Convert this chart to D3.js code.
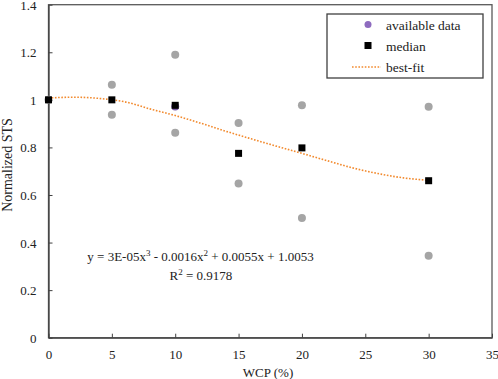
<!DOCTYPE html>
<html>
<head>
<meta charset="utf-8">
<script src="https://cdn.jsdelivr.net/npm/d3@7"></script>
<style>
  body { margin: 0; background: #fff; }
  svg { display: block; }
  svg text { font-family: "Liberation Serif", "Times New Roman", serif; fill: #222; }
  .tick-label { font-size: 13px; }
  .axis-title { font-size: 13px; }
  .legend-text { font-size: 13.5px; }
  .eq-text { font-size: 13px; }
</style>
</head>
<body>
<svg id="chart" width="498" height="379"></svg>
<script>
// available data (WCP %, normalized STS)
const dataX = [0, 5, 5, 10, 10, 15, 15, 20, 20, 30, 30]
const dataY = [1.0, 1.063, 0.937, 1.19, 0.862, 0.903, 0.648, 0.977, 0.503, 0.971, 0.345]
// point hidden under the median square at 10
const purpleX = [10]
const purpleY = [0.972]

// medians
const medianX = [0, 5, 10, 15, 20, 30]
const medianY = [1.0, 1.0, 0.977, 0.775, 0.798, 0.66]

// best-fit curve
const fitX = [0, 2, 4, 5, 6, 8, 10, 12, 14, 16, 18, 20, 22, 24, 26, 28, 30]
const fitY = [1.008, 1.011, 1.006, 1.0, 0.992, 0.962, 0.934, 0.902, 0.868, 0.836, 0.805, 0.775, 0.744, 0.714, 0.690, 0.672, 0.662]

const xTicks = [0, 5, 10, 15, 20, 25, 30, 35]
const yTicks = [0, 0.2, 0.4, 0.6, 0.8, 1, 1.2, 1.4]

const svg = d3.select('#chart')
const M = { left: 48.5, right: 492, top: 4.7, bottom: 337.7 }

const x = d3.scaleLinear().domain([0, 35]).range([M.left, M.right])
const y = d3.scaleLinear().domain([0, 1.4]).range([M.bottom, M.top])

// plot frame
svg.append('rect')
    .attr('x', M.left).attr('y', M.top)
    .attr('width', M.right - M.left).attr('height', M.bottom - M.top)
    .attr('fill', 'none').attr('stroke', '#595959').attr('stroke-width', 1.3)

// axes, ticks pointing inside
const xAxis = svg.append('g')
    .attr('transform', `translate(0, ${M.bottom})`)
    .call(d3.axisBottom(x).tickValues(xTicks).tickSizeInner(-4).tickSizeOuter(0).tickFormat(d3.format('d')))
const yAxis = svg.append('g')
    .attr('transform', `translate(${M.left}, 0)`)
    .call(d3.axisLeft(y).tickValues(yTicks).tickSizeInner(-4).tickSizeOuter(0).tickFormat(d => d3.format('~g')(d)))

for (const g of [xAxis, yAxis]) {
    g.attr('font-family', null).attr('font-size', null)
    g.select('.domain').attr('stroke', '#404040').attr('stroke-width', 1.3)
    g.selectAll('.tick line').attr('stroke', '#404040')
    g.selectAll('.tick text').attr('class', 'tick-label').attr('fill', null)
}
xAxis.selectAll('.tick text').attr('dy', null).attr('y', 21.5)
yAxis.selectAll('.tick text').attr('x', -12).attr('dy', '0.35em')

// axis titles
svg.append('text')
    .attr('class', 'axis-title')
    .attr('x', 268).attr('y', 377)
    .attr('text-anchor', 'middle')
    .text('WCP (%)')
svg.append('text')
    .attr('class', 'axis-title')
    .attr('font-size', 14)
    .style('font-size', '14px')
    .attr('transform', 'translate(12, 165) rotate(-90)')
    .attr('text-anchor', 'middle')
    .text('Normalized STS')

// available data
svg.append('g').selectAll('circle')
    .data(d3.zip(dataX, dataY))
    .join('circle')
    .attr('cx', d => x(d[0])).attr('cy', d => y(d[1]))
    .attr('r', 4)
    .attr('fill', '#a5a5a5')
svg.append('g').selectAll('circle')
    .data(d3.zip(purpleX, purpleY))
    .join('circle')
    .attr('cx', d => x(d[0])).attr('cy', d => y(d[1]))
    .attr('r', 4)
    .attr('fill', '#7b5ea7')

// best-fit
const fitLine = d3.line()
    .x(d => x(d[0])).y(d => y(d[1]))
    .curve(d3.curveMonotoneX)
svg.append('path')
    .datum(d3.zip(fitX, fitY))
    .attr('d', fitLine)
    .attr('fill', 'none')
    .attr('stroke', '#f28a2e')
    .attr('stroke-width', 1.6)
    .attr('stroke-dasharray', '1.6,1.6')

// medians
const sq = 7
svg.append('g').selectAll('rect')
    .data(d3.zip(medianX, medianY))
    .join('rect')
    .attr('x', d => x(d[0]) - sq / 2).attr('y', d => y(d[1]) - sq / 2)
    .attr('width', sq).attr('height', sq)
    .attr('fill', '#000')

// equation text
svg.append('text')
    .attr('class', 'eq-text')
    .attr('x', 200.5).attr('y', 261)
    .attr('text-anchor', 'middle')
    .html('y = 3E-05x<tspan font-size="9" dy="-5">3</tspan><tspan dy="5"> - 0.0016x</tspan><tspan font-size="9" dy="-5">2</tspan><tspan dy="5"> + 0.0055x + 1.0053</tspan>')
svg.append('text')
    .attr('class', 'eq-text')
    .attr('x', 201).attr('y', 280)
    .attr('text-anchor', 'middle')
    .html('R<tspan font-size="9" dy="-5">2</tspan><tspan dy="5"> = 0.9178</tspan>')

// legend
const legend = svg.append('g')
legend.append('rect')
    .attr('x', 327).attr('y', 14).attr('width', 156).attr('height', 64)
    .attr('fill', '#fff').attr('stroke', '#404040').attr('stroke-width', 1.3)
legend.append('circle').attr('cx', 368).attr('cy', 24.5).attr('r', 3.5).attr('fill', '#8e6bbf')
legend.append('rect').attr('x', 368 - 3.5).attr('y', 45.5 - 3.5).attr('width', 7).attr('height', 7).attr('fill', '#000')
legend.append('line')
    .attr('x1', 352).attr('x2', 381).attr('y1', 67).attr('y2', 67)
    .attr('stroke', '#f28a2e').attr('stroke-width', 1.6).attr('stroke-dasharray', '1.6,1.6')
const legendLabels = ['available data', 'median', 'best-fit']
legend.selectAll('text.legend-text')
    .data(legendLabels)
    .join('text')
    .attr('class', 'legend-text')
    .attr('x', 386).attr('y', (d, i) => 29.5 + i * 21.2)
    .text(d => d)
</script>
</body>
</html>
